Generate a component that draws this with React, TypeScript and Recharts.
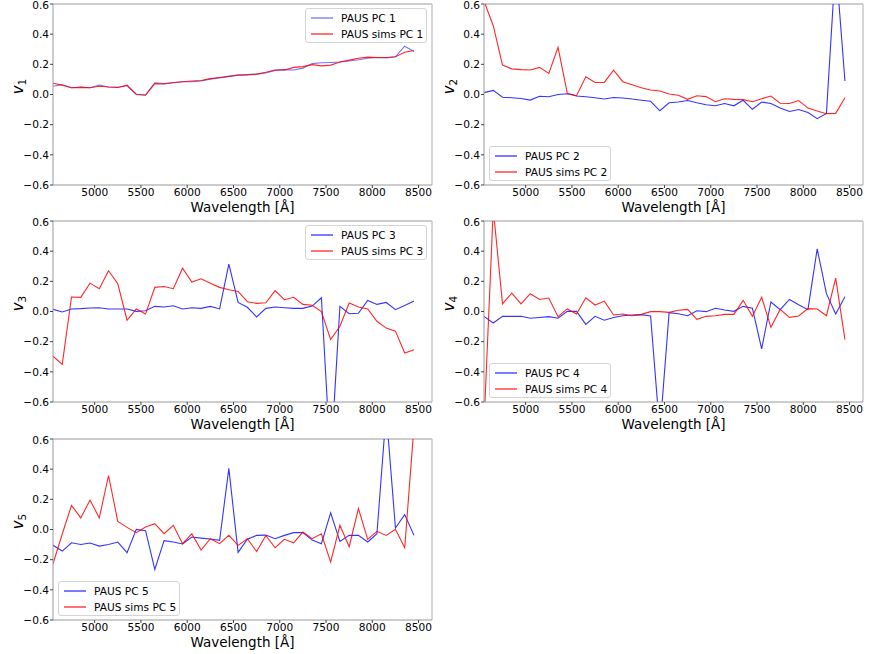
import React from "react";
import {
  LineChart, Line, XAxis, YAxis, ReferenceLine, Legend,
} from "recharts";

// ── Data ─────────────────────────────────────────────────────────────────────

const wavelengths = [
  4550, 4650, 4750, 4850, 4950, 5050, 5150, 5250, 5350, 5450,
  5550, 5650, 5750, 5850, 5950, 6050, 6150, 6250, 6350, 6450,
  6550, 6650, 6750, 6850, 6950, 7050, 7150, 7250, 7350, 7450,
  7550, 7650, 7750, 7850, 7950, 8050, 8150, 8250, 8350, 8450,
];

const pausPC1 = [
  0.055, 0.065, 0.045, 0.05, 0.045, 0.063, 0.05, 0.048, 0.058, 0.0,
  -0.003, 0.078, 0.072, 0.08, 0.085, 0.085, 0.09, 0.102, 0.11, 0.12,
  0.13, 0.132, 0.135, 0.142, 0.16, 0.165, 0.162, 0.175, 0.205, 0.21,
  0.212, 0.215, 0.222, 0.23, 0.24, 0.245, 0.242, 0.25, 0.32, 0.285,
];
const simsPC1 = [
  0.075, 0.062, 0.045, 0.047, 0.045, 0.055, 0.05, 0.047, 0.062, 0.002,
  -0.005, 0.072, 0.07, 0.078, 0.085, 0.09, 0.093, 0.105, 0.113, 0.12,
  0.128, 0.13, 0.135, 0.148, 0.162, 0.163, 0.18, 0.185, 0.198, 0.19,
  0.195, 0.215, 0.228, 0.24, 0.248, 0.245, 0.245, 0.25, 0.28, 0.292,
];

const pausPC2 = [
  0.012, 0.027, -0.018, -0.022, -0.027, -0.037, -0.012, -0.015, 0.0, 0.005,
  -0.01, -0.015, -0.022, -0.03, -0.02, -0.023, -0.03, -0.038, -0.045, -0.108,
  -0.055, -0.05, -0.04, -0.055, -0.068, -0.075, -0.06, -0.075, -0.038, -0.098,
  -0.05, -0.06, -0.09, -0.113, -0.1, -0.12, -0.16, -0.125, 0.88, 0.09,
];
const simsPC2 = [
  0.62, 0.456, 0.195, 0.17, 0.165, 0.162, 0.18, 0.14, 0.313, 0.008,
  -0.008, 0.118, 0.08, 0.08, 0.162, 0.085, 0.065, 0.045, 0.03, 0.023,
  0.003, -0.005, -0.032, -0.008, -0.014, -0.048, -0.028, -0.032, -0.034, -0.048,
  -0.028, -0.01, -0.058, -0.06, -0.04, -0.09, -0.11, -0.127, -0.125, -0.022,
];

const pausPC3 = [
  0.014, -0.003, 0.017, 0.019, 0.023, 0.025, 0.017, 0.017, 0.017, 0.001,
  0.005, 0.034, 0.03, 0.038, 0.017, 0.025, 0.021, 0.034, 0.017, 0.314,
  0.06, 0.028, -0.036, 0.021, 0.03, 0.025, 0.021, 0.021, 0.036, 0.091,
  -1.0, 0.034, -0.015, -0.012, 0.073, 0.047, 0.06, 0.012, 0.04, 0.069,
];
const simsPC3 = [
  -0.296, -0.351, 0.096, 0.094, 0.188, 0.151, 0.27, 0.184, -0.058, 0.017,
  -0.017, 0.16, 0.166, 0.151, 0.287, 0.195, 0.217, 0.188, 0.16, 0.144,
  0.133, 0.065, 0.054, 0.058, 0.138, 0.078, 0.094, 0.047, 0.041, -0.001,
  -0.186, -0.098, 0.056, 0.03, 0.017, -0.065, -0.11, -0.13, -0.275, -0.253,
];

const pausPC4 = [
  -0.032, -0.076, -0.032, -0.032, -0.032, -0.045, -0.04, -0.034, -0.045, 0.001,
  0.001, -0.085, -0.032, -0.058, -0.04, -0.028, -0.023, -0.021, -0.03, -0.8,
  -0.008, -0.015, -0.028, 0.005, -0.001, 0.021, 0.01, 0.001, 0.034, 0.021,
  -0.248, 0.063, 0.012, 0.08, 0.045, 0.012, 0.415, 0.118, -0.017, 0.098,
];
const simsPC4 = [
  -0.75, 0.68, 0.05, 0.122, 0.05, 0.118, 0.08, 0.089, -0.034, 0.017,
  -0.017, 0.091, 0.043, 0.069, -0.023, -0.017, -0.028, -0.019, -0.001, -0.001,
  -0.006, 0.008, 0.014, -0.052, -0.032, -0.028, -0.019, -0.019, 0.074, -0.032,
  0.094, -0.105, 0.014, -0.039, -0.03, 0.019, 0.017, -0.028, 0.221, -0.186,
];

const pausPC5 = [
  -0.105, -0.143, -0.088, -0.099, -0.09, -0.11, -0.099, -0.083, -0.154, 0.001,
  -0.008, -0.265, -0.074, -0.083, -0.096, -0.05, -0.057, -0.063, -0.072, 0.405,
  -0.152, -0.065, -0.039, -0.037, -0.061, -0.039, -0.021, -0.021, -0.07, -0.094,
  0.11, -0.079, -0.039, -0.039, -0.083, -0.028, 0.78, 0.01, 0.099, -0.039,
];
const simsPC5 = [
  -0.228, -0.03, 0.16, 0.077, 0.195, 0.077, 0.358, 0.054, 0.014, -0.021,
  0.017, 0.039, -0.028, 0.028, -0.094, -0.028, -0.136, -0.061, -0.094, -0.039,
  -0.105, -0.061, -0.146, -0.039, -0.121, -0.065, -0.088, -0.017, -0.061, -0.028,
  -0.216, 0.028, -0.114, 0.139, -0.065, -0.012, -0.039, 0.001, -0.121, 0.68,
];

const xTicks = [5000, 5500, 6000, 6500, 7000, 7500, 8000, 8500];
const yTicks = [-0.6, -0.4, -0.2, 0, 0.2, 0.4, 0.6];
const X_MIN = 4550;
const X_MAX = 8645;

// ── Layout ───────────────────────────────────────────────────────────────────

const FONT = "'DejaVu Sans', sans-serif";
const CHART_W = 436;
const CHART_H = 215;
const BLUE = "#0000ff";
const RED = "#ff0000";

interface PanelSpec {
  n: number;
  pc: number[];
  sims: number[];
  left: number;
  top: number;
  legendPos: "upper right" | "lower left";
  blueOpacity: number;
}

const panels: PanelSpec[] = [
  { n: 1, pc: pausPC1, sims: simsPC1, left: 0, top: 0, legendPos: "upper right", blueOpacity: 0.55 },
  { n: 2, pc: pausPC2, sims: simsPC2, left: 431, top: 0, legendPos: "lower left", blueOpacity: 0.8 },
  { n: 3, pc: pausPC3, sims: simsPC3, left: 0, top: 217, legendPos: "upper right", blueOpacity: 0.8 },
  { n: 4, pc: pausPC4, sims: simsPC4, left: 431, top: 217, legendPos: "lower left", blueOpacity: 0.8 },
  { n: 5, pc: pausPC5, sims: simsPC5, left: 0, top: 435, legendPos: "lower left", blueOpacity: 0.8 },
];

const fmtY = (v: number) => (v < 0 ? "\u2212" : "") + Math.abs(v).toFixed(1);

// rotated "v_n" label on the y axis
function YLabel({ viewBox, n }: any) {
  const x = (viewBox?.x ?? 0) + 23;
  const y = (viewBox?.y ?? 0) + (viewBox?.height ?? 0) / 2 - 8;
  return (
    <text
      x={x}
      y={y}
      transform={`rotate(-90, ${x}, ${y})`}
      textAnchor="middle"
      fontFamily={FONT}
      fontSize={15}
      fill="#000"
    >
      <tspan fontStyle="italic">v</tspan>
      <tspan fontSize={10.5} dy={2.5}>{n}</tspan>
    </text>
  );
}

function PanelLegend({ n, blueOpacity }: { n: number; blueOpacity: number }) {
  const row = (label: string, color: string, opacity: number, cy: number) => (
    <div style={{ position: "absolute", left: 0, top: cy - 7, height: 14, width: "100%" }}>
      <svg width={30} height={14} style={{ position: "absolute", left: 0, top: 0 }}>
        <line x1={5} y1={7} x2={27} y2={7} stroke={color} strokeOpacity={opacity} strokeWidth={1.3} />
      </svg>
      <span style={{ position: "absolute", left: 35, top: 0, lineHeight: "14px", whiteSpace: "nowrap" }}>
        {label}
      </span>
    </div>
  );
  return (
    <div
      style={{
        position: "relative",
        width: 122,
        height: 35,
        boxSizing: "border-box",
        border: "1px solid #d4d4d4",
        borderRadius: 3,
        background: "rgba(255,255,255,0.85)",
        fontFamily: FONT,
        fontSize: 10.6,
        color: "#000",
      }}
    >
      {row(`PAUS PC ${n}`, BLUE, blueOpacity, 9)}
      {row(`PAUS sims PC ${n}`, RED, 0.85, 24.5)}
    </div>
  );
}

function Panel({ spec }: { spec: PanelSpec }) {
  const data = wavelengths.map((w, i) => ({ w, pc: spec.pc[i], sims: spec.sims[i] }));
  const legendStyle =
    spec.legendPos === "upper right"
      ? { left: 305, top: 8, width: 122 }
      : { left: 58, top: 146, width: 122 };

  return (
    <div style={{ position: "absolute", left: spec.left, top: spec.top }}>
      <LineChart
        width={CHART_W}
        height={CHART_H}
        data={data}
        margin={{ top: 4, right: 4, left: 0, bottom: 0 }}
      >
        <XAxis
          dataKey="w"
          type="number"
          domain={[X_MIN, X_MAX]}
          allowDataOverflow
          ticks={xTicks}
          height={30}
          tickSize={3}
          tickMargin={0}
          tick={{ fill: "#000", fontSize: 10.6, fontFamily: FONT }}
          tickLine={{ stroke: "#444" }}
          axisLine={{ stroke: "#999" }}
          label={{
            value: "Wavelength [\u00c5]",
            position: "insideBottom",
            offset: 3,
            fill: "#000",
            fontSize: 13.5,
            fontFamily: FONT,
          }}
        />
        <YAxis
          type="number"
          domain={[-0.6, 0.6]}
          allowDataOverflow
          ticks={yTicks}
          width={53}
          tickSize={3}
          tickMargin={1}
          tickFormatter={fmtY}
          tick={{ fill: "#000", fontSize: 10.6, fontFamily: FONT }}
          tickLine={{ stroke: "#444" }}
          axisLine={{ stroke: "#999" }}
          label={<YLabel n={spec.n} />}
        />
        <ReferenceLine y={0.6} stroke="#999" strokeWidth={1} />
        <ReferenceLine x={X_MAX} stroke="#c8c8c8" strokeWidth={1.5} />
        <Line
          dataKey="pc"
          type="linear"
          stroke={BLUE}
          strokeOpacity={spec.blueOpacity}
          strokeWidth={1.1}
          dot={false}
          isAnimationActive={false}
        />
        <Line
          dataKey="sims"
          type="linear"
          stroke={RED}
          strokeOpacity={0.85}
          strokeWidth={1.1}
          dot={false}
          isAnimationActive={false}
        />
        <Legend
          layout="vertical"
          align="center"
          verticalAlign="middle"
          wrapperStyle={legendStyle}
          content={() => <PanelLegend n={spec.n} blueOpacity={spec.blueOpacity} />}
        />
      </LineChart>
    </div>
  );
}

export default function App() {
  return (
    <div
      style={{
        position: "absolute",
        left: 0,
        top: 0,
        width: 872,
        height: 654,
        background: "#fff",
        overflow: "hidden",
      }}
    >
      {panels.map((p) => (
        <Panel key={p.n} spec={p} />
      ))}
    </div>
  );
}
